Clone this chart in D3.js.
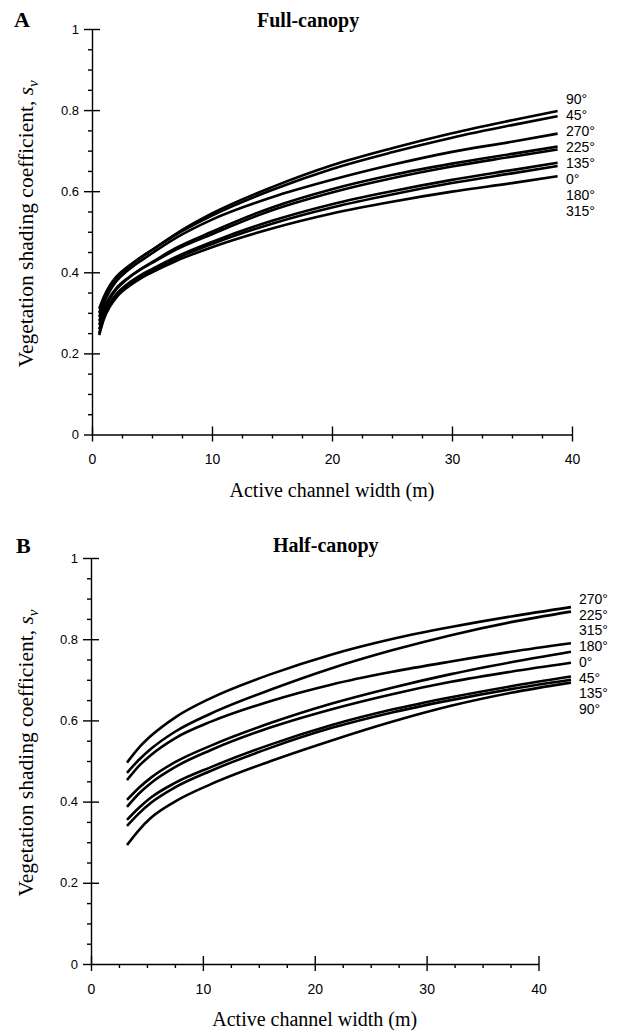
<!DOCTYPE html>
<html>
<head>
<meta charset="utf-8">
<script src="https://cdn.jsdelivr.net/npm/d3@7"></script>
<style>
body { margin: 0; background: #fff; }
.tick text, .angleLb { font-family: "Liberation Sans", Arial, sans-serif; fill: #000; }
.serif { font-family: "Liberation Serif", "Times New Roman", serif; fill: #000; }
</style>
</head>
<body>
<div id="main"></div>
<script>
const ctx = {
    w: 624,
    h: 1033,
    STROKE_W: 2.6,
    AXIS_W: 1.4
};

// ---- data ----
// x tick labels / y tick labels
const xTicks = [0, 10, 20, 30, 40];
const yTicks = [0, 0.2, 0.4, 0.6, 0.8, 1];

// A: full canopy, channel widths (m)
const fullWidths = [0.6, 1, 1.5, 2, 3, 4, 5, 7, 10, 15, 20, 25, 30, 35, 38.8];
const full90  = [0.300, 0.335, 0.365, 0.385, 0.412, 0.435, 0.455, 0.495, 0.545, 0.610, 0.664, 0.706, 0.743, 0.775, 0.798];
const full45  = [0.310, 0.340, 0.368, 0.388, 0.414, 0.436, 0.455, 0.493, 0.540, 0.603, 0.655, 0.696, 0.732, 0.763, 0.785];
const full270 = [0.290, 0.325, 0.355, 0.377, 0.405, 0.427, 0.447, 0.485, 0.530, 0.585, 0.628, 0.665, 0.697, 0.722, 0.742];
const full225 = [0.270, 0.305, 0.335, 0.357, 0.385, 0.407, 0.425, 0.460, 0.500, 0.560, 0.605, 0.640, 0.668, 0.692, 0.710];
const full135 = [0.280, 0.312, 0.340, 0.360, 0.386, 0.406, 0.423, 0.456, 0.494, 0.553, 0.597, 0.632, 0.661, 0.685, 0.703];
const full0   = [0.260, 0.295, 0.324, 0.345, 0.372, 0.392, 0.408, 0.438, 0.475, 0.527, 0.568, 0.600, 0.628, 0.652, 0.670];
const full180 = [0.250, 0.290, 0.320, 0.341, 0.368, 0.388, 0.404, 0.434, 0.470, 0.520, 0.560, 0.592, 0.620, 0.644, 0.662];
const full315 = [0.245, 0.285, 0.316, 0.337, 0.364, 0.384, 0.400, 0.428, 0.462, 0.508, 0.545, 0.574, 0.599, 0.620, 0.637];
const fullAngles = ["90°", "45°", "270°", "225°", "135°", "0°", "180°", "315°"];

// B: half canopy
const halfWidths = [3, 4, 5, 7, 10, 15, 20, 25, 30, 35, 40];
const half270 = [0.496, 0.533, 0.562, 0.607, 0.655, 0.714, 0.762, 0.800, 0.830, 0.856, 0.879];
const half225 = [0.471, 0.503, 0.530, 0.572, 0.617, 0.676, 0.728, 0.772, 0.810, 0.842, 0.868];
const half315 = [0.453, 0.488, 0.515, 0.556, 0.597, 0.648, 0.688, 0.719, 0.745, 0.769, 0.790];
const half180 = [0.404, 0.434, 0.459, 0.497, 0.538, 0.594, 0.641, 0.680, 0.714, 0.743, 0.769];
const half0   = [0.387, 0.420, 0.446, 0.485, 0.527, 0.583, 0.627, 0.664, 0.695, 0.720, 0.742];
const half45  = [0.355, 0.385, 0.410, 0.446, 0.485, 0.541, 0.588, 0.626, 0.657, 0.684, 0.708];
const half135 = [0.340, 0.371, 0.397, 0.435, 0.476, 0.533, 0.581, 0.619, 0.650, 0.677, 0.700];
const half90  = [0.293, 0.330, 0.360, 0.400, 0.443, 0.500, 0.550, 0.596, 0.636, 0.668, 0.693];
const halfAngles = ["270°", "225°", "315°", "180°", "0°", "45°", "135°", "90°"];

const panels = [
    {
        letter: "A", title: "Full-canopy",
        widths: fullWidths,
        series: [full90, full45, full270, full225, full135, full0, full180, full315],
        angles: fullAngles,
        left: 92, axisRight: 572, curveRight: 572, top: 29, bottom: 434.5,
        titleX: 257, titleY: 26.5, letterX: 14, letterY: 27,
        lbX: 566, lbY: 99, lbStep: 16
    },
    {
        letter: "B", title: "Half-canopy",
        widths: halfWidths,
        series: [half270, half225, half315, half180, half0, half45, half135, half90],
        angles: halfAngles,
        // the printed curves run past the (narrower) x axis of panel B
        left: 91, axisRight: 538.5, curveRight: 571, top: 558, bottom: 964,
        titleX: 273, titleY: 552, letterX: 16, letterY: 553,
        lbX: 579, lbY: 599, lbStep: 15.7
    }
];

function drawPanel(svg, p) {
    let g = svg.append("g");
    let xScale = d3.scaleLinear().domain([0, 40]).range([p.left, p.axisRight]);
    let xCurve = d3.scaleLinear().domain([0, 40]).range([p.left, p.curveRight]);
    let yScale = d3.scaleLinear().domain([0, 1]).range([p.bottom, p.top]);

    let minorX = d3.range(0, 40.01, 2.5).filter((v) => (v % 10 !== 0));
    let minorY = d3.range(0, 1.001, 0.05).map((v) => +v.toFixed(2))
                   .filter((v) => (Math.round(v * 100) % 20 !== 0));

    // x axis: major ticks cross the line, minor ones below
    g.append("g")
        .attr("transform", `translate(0,${p.bottom})`)
        .call(d3.axisBottom(xScale).tickValues(xTicks).tickSize(7).tickSizeOuter(0).tickPadding(13))
        .call((a) => a.selectAll("text").style("font-size", "14px"));
    g.append("g")
        .attr("transform", `translate(0,${p.bottom})`)
        .call(d3.axisTop(xScale).tickValues(xTicks).tickSize(8).tickSizeOuter(0).tickFormat(""))
        .call((a) => a.select(".domain").remove());
    g.append("g")
        .attr("transform", `translate(0,${p.bottom})`)
        .call(d3.axisBottom(xScale).tickValues(minorX).tickSize(4).tickFormat(""))
        .call((a) => a.select(".domain").remove());

    // y axis
    g.append("g")
        .attr("transform", `translate(${p.left},0)`)
        .call(d3.axisLeft(yScale).tickValues(yTicks).tickSize(8).tickSizeOuter(0)
                .tickPadding(5).tickFormat(d3.format("~g")))
        .call((a) => a.selectAll("text").style("font-size", "13px"));
    g.append("g")
        .attr("transform", `translate(${p.left},0)`)
        .call(d3.axisRight(yScale).tickValues(yTicks.filter((v) => v > 0)).tickSize(8).tickSizeOuter(0).tickFormat(""))
        .call((a) => a.select(".domain").remove());
    g.append("g")
        .attr("transform", `translate(${p.left},0)`)
        .call(d3.axisLeft(yScale).tickValues(minorY).tickSize(4).tickFormat(""))
        .call((a) => a.select(".domain").remove());

    g.selectAll(".domain, .tick line")
        .attr("stroke", "#000")
        .attr("stroke-width", ctx.AXIS_W);

    // curves
    let line = d3.line()
        .x((d) => xCurve(d[0]))
        .y((d) => yScale(d[1]))
        .curve(d3.curveMonotoneX);
    g.selectAll("path.curve")
        .data(p.series)
        .enter()
        .append("path")
        .attr("class", "curve")
        .attr("d", (s) => line(s.map((v, i) => [p.widths[i], v])))
        .attr("fill", "none")
        .attr("stroke", "#000")
        .attr("stroke-width", ctx.STROKE_W);

    // angle labels, stacked at the right
    g.selectAll("text.angleLb")
        .data(p.angles)
        .enter()
        .append("text")
        .attr("class", "angleLb")
        .attr("x", p.lbX)
        .attr("y", (d, i) => p.lbY + i * p.lbStep + 5)
        .style("font-size", "14px")
        .text((d) => d);

    // titles
    g.append("text").classed("serif", true)
        .attr("x", p.letterX).attr("y", p.letterY)
        .style("font-size", "22px").style("font-weight", "bold")
        .text(p.letter);
    g.append("text").classed("serif", true)
        .attr("x", p.titleX).attr("y", p.titleY)
        .style("font-size", "20px").style("font-weight", "bold")
        .text(p.title);

    // axis labels
    g.append("text").classed("serif", true)
        .attr("x", (p.left + p.axisRight) / 2)
        .attr("y", p.bottom + 62)
        .style("font-size", "20px")
        .style("text-anchor", "middle")
        .text("Active channel width (m)");

    let yl = g.append("text").classed("serif", true)
        .attr("transform", `translate(33,${(p.top + p.bottom) / 2 - 8}) rotate(-90)`)
        .style("font-size", "21.5px")
        .style("text-anchor", "middle");
    yl.append("tspan").text("Vegetation shading coefficient, ");
    yl.append("tspan").style("font-style", "italic").text("s");
    yl.append("tspan").style("font-style", "italic").style("font-size", "15px")
        .attr("dy", 5).text("v");
}

function createViz() {
    let svgEl = d3.select("#main").append("svg")
        .attr("width", ctx.w)
        .attr("height", ctx.h);
    panels.forEach((p) => drawPanel(svgEl, p));
}

createViz();
</script>
</body>
</html>
